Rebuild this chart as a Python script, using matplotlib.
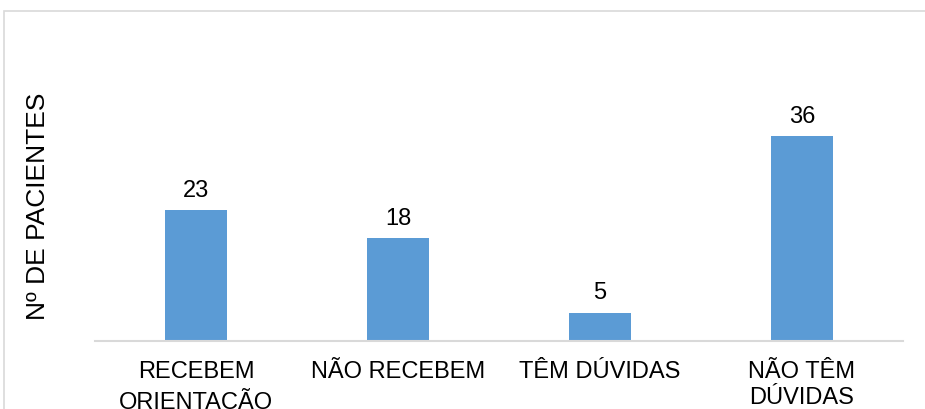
import matplotlib.pyplot as plt
from matplotlib.patches import Rectangle

plt.rcParams['font.family'] = ['Liberation Sans', 'DejaVu Sans']

categorias = ['RECEBEM\nORIENTAÇÃO', 'NÃO RECEBEM', 'TÊM DÚVIDAS', 'NÃO TÊM\nDÚVIDAS']
pacientes = [23, 18, 5, 36]

fig = plt.figure(figsize=(9.25, 4.1), dpi=100)
ax = fig.add_axes([95 / 925, 1 - 342 / 410, 808 / 925, (342 - 114) / 410])

x = range(len(categorias))
barras = ax.bar(x, pacientes, width=0.31, color='#5B9BD5', zorder=2)
ax.set_xlim(-0.5, len(categorias) - 0.5)
ax.set_ylim(0, 40)

for b, v in zip(barras, pacientes):
    ax.text(b.get_x() + b.get_width() / 2, v + 1.6, str(v),
            ha='center', va='bottom', fontsize=17, color='#000000')

ax.set_xticks(list(x))
ax.set_xticklabels(categorias, fontsize=17, linespacing=1.2)
ax.tick_params(axis='x', length=0, pad=14)
ax.set_yticks([])

for s in ['top', 'right', 'left']:
    ax.spines[s].set_visible(False)
ax.spines['bottom'].set_color('#d9d9d9')
ax.spines['bottom'].set_linewidth(1.5)

fig.text(38 / 925, 1 - 206 / 410, 'Nº DE PACIENTES', rotation=90,
         ha='center', va='center', fontsize=19)

# moldura cinza em volta do gráfico
fig.patches.append(Rectangle((4 / 925, -0.1), 1.2, 1.1 - 12 / 410, transform=fig.transFigure,
                             fill=False, edgecolor='#d9d9d9', linewidth=1.2))

fig.savefig('out.png', dpi=100)
